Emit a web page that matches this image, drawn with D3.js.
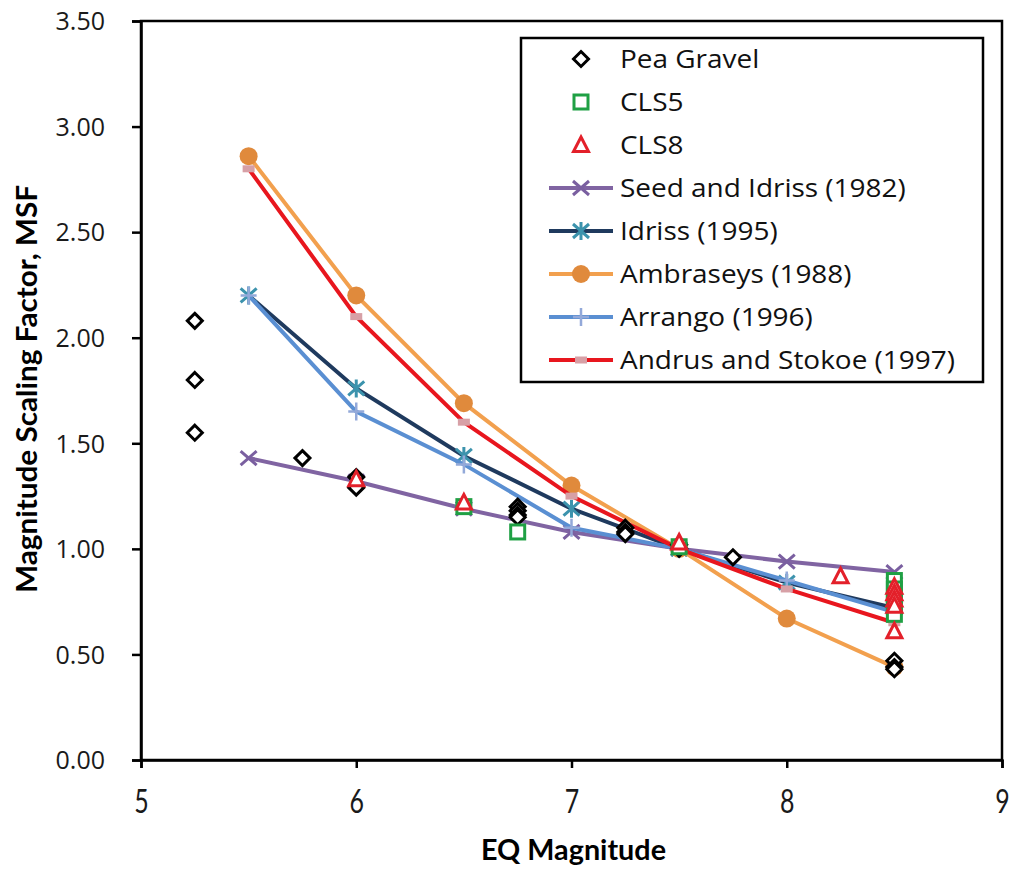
<!DOCTYPE html>
<html><head><meta charset="utf-8">
<script src="https://cdn.jsdelivr.net/npm/d3@7"></script>
<style>body{margin:0;background:#fff}</style>
</head><body>
<svg id="c" width="1013" height="869"></svg>
<script>
// ---- data ----
const xTicks = [5, 6, 7, 8, 9];
const yTicks = [0, 0.5, 1, 1.5, 2, 2.5, 3, 3.5];

const peaGravel = [[5.25,2.08],[5.25,1.80],[5.25,1.55],[5.75,1.43],[6,1.34],[6,1.29],
  [6.75,1.20],[6.75,1.18],[6.75,1.16],[6.75,1.15],[7.25,1.10],[7.25,1.08],[7.25,1.07],[7.5,1.02],[7.5,1.00],
  [7.75,0.96],[8.5,0.47],[8.5,0.44],[8.5,0.43]];
const cls5 = [[6.5,1.20],[6.75,1.08],[7.5,1.01],[8.5,0.85],[8.5,0.81],[8.5,0.77],[8.5,0.73],[8.5,0.69]];
const cls8 = [[6,1.33],[6.5,1.22],[7.5,1.03],[8.25,0.87],[8.5,0.82],[8.5,0.79],[8.5,0.76],[8.5,0.73],[8.5,0.61]];

const magnitudes = [5.5, 6, 6.5, 7, 7.5, 8, 8.5];
const seedIdriss1982 = [1.43, 1.32, 1.19, 1.08, 1.00, 0.94, 0.89];
const idriss1995 = [2.20, 1.76, 1.44, 1.19, 1.00, 0.84, 0.72];
const ambraseys1988 = [2.86, 2.20, 1.69, 1.30, 1.00, 0.67, 0.44];
const arrango1996 = [2.20, 1.65, 1.40, 1.10, 1.00, 0.85, 0.70];
const andrusStokoe1997 = [2.80, 2.10, 1.60, 1.25, 1.00, 0.81, 0.65];

const svg = d3.select('#c');
const L = 141, R = 1002, T = 21, B = 760;
const x = d3.scaleLinear().domain([5, 9]).range([L, R]);
const y = d3.scaleLinear().domain([0, 3.5]).range([B, T]);

// frame
svg.append('rect').attr('x', L).attr('y', T).attr('width', R-L).attr('height', B-T)
  .attr('fill', 'none').attr('stroke', '#000').attr('stroke-width', 2.5);

const xa = svg.append('g').attr('transform', `translate(0,${B})`)
  .call(d3.axisBottom(x).tickValues(xTicks).tickSize(8).tickPadding(22).tickFormat(d3.format('d')));
const ya = svg.append('g').attr('transform', `translate(${L},0)`)
  .call(d3.axisLeft(y).tickValues(yTicks).tickSize(9).tickPadding(27).tickFormat(d3.format('.2f')));
[xa, ya].forEach(a => {
  a.select('.domain').attr('stroke', '#000').attr('stroke-width', 2.5);
  a.selectAll('.tick line').attr('stroke', '#000').attr('stroke-width', 2.5);
  a.selectAll('.tick text').attr('fill', '#1a1a1a').style('font-family', "'Open Sans', sans-serif");
});
ya.selectAll('.tick text').style('font-size', '25px').attr('dy', '0.35em');
xa.selectAll('.tick text').style('font-family', "Lato, sans-serif").style('font-size', '32px')
  .attr('transform', 'scale(0.78,1)');

svg.append('text').attr('x', (L+R)/2 + 2).attr('y', 860).attr('text-anchor', 'middle')
  .style('font-family', "Lato, sans-serif").style('font-weight', 'bold').style('font-size', '29px')
  .attr('textLength', 185).attr('lengthAdjust', 'spacingAndGlyphs').text('EQ Magnitude');
svg.append('text').attr('transform', `translate(37,${389}) rotate(-90)`).attr('text-anchor', 'middle')
  .style('font-family', "Lato, sans-serif").style('font-weight', 'bold').style('font-size', '29px')
  .attr('textLength', 408).attr('lengthAdjust', 'spacingAndGlyphs').text('Magnitude Scaling Factor, MSF');

// markers
function marker(g, type, color) {
  if (type === 'diamond') g.append('path').attr('d', 'M0,-7.5L7.5,0L0,7.5L-7.5,0Z').attr('fill', '#fff').attr('stroke', '#000').attr('stroke-width', 3);
  if (type === 'square') g.append('rect').attr('x', -7).attr('y', -7).attr('width', 14).attr('height', 14).attr('fill', '#fff').attr('stroke', '#1fa044').attr('stroke-width', 3);
  if (type === 'tri') g.append('path').attr('d', 'M0,-8L7.5,6.5L-7.5,6.5Z').attr('fill', '#fff').attr('stroke', '#e3202a').attr('stroke-width', 3);
  if (type === 'x') g.append('path').attr('d', 'M-8,-7L8,7M-8,7L8,-7').attr('stroke', color).attr('stroke-width', 3);
  if (type === 'star') g.append('path').attr('d', 'M-8,-7L8,7M-8,7L8,-7M0,-9L0,9').attr('stroke', color).attr('stroke-width', 3);
  if (type === 'circle') g.append('circle').attr('r', 9).attr('fill', color);
  if (type === 'plus') g.append('path').attr('d', 'M-8,0L8,0M0,-9L0,9').attr('stroke', color).attr('stroke-width', 2.5);
  if (type === 'dash') g.append('rect').attr('x', -6).attr('y', -3.5).attr('width', 12).attr('height', 7).attr('fill', color);
}

const lines = [
  {name: 'Seed and Idriss (1982)', vals: seedIdriss1982, line: '#8064a2', mk: 'x', mc: '#7a5fa0'},
  {name: 'Idriss (1995)', vals: idriss1995, line: '#1f3a5e', mk: 'star', mc: '#3c93ad'},
  {name: 'Ambraseys (1988)', vals: ambraseys1988, line: '#f2a04e', mk: 'circle', mc: '#e08a3c'},
  {name: 'Arrango (1996)', vals: arrango1996, line: '#5a8fd2', mk: 'plus', mc: '#93a9d9'},
  {name: 'Andrus and Stokoe (1997)', vals: andrusStokoe1997, line: '#e8161e', mk: 'dash', mc: '#d7a0a6'}
];
const lineGen = d3.line().x(d => x(d[0])).y(d => y(d[1]));
lines.forEach(s => {
  const pts = magnitudes.map((m, i) => [m, s.vals[i]]);
  svg.append('path').attr('d', lineGen(pts)).attr('fill', 'none').attr('stroke', s.line).attr('stroke-width', 4);
  pts.forEach(p => marker(svg.append('g').attr('transform', `translate(${x(p[0])},${y(p[1])})`), s.mk, s.mc));
});

[[peaGravel, 'diamond'], [cls5, 'square'], [cls8, 'tri']].forEach(([arr, t]) => {
  arr.forEach(p => marker(svg.append('g').attr('transform', `translate(${x(p[0])},${y(p[1])})`), t));
});

// legend
const lg = svg.append('g');
lg.append('rect').attr('x', 521).attr('y', 38).attr('width', 462).attr('height', 344)
  .attr('fill', '#fff').attr('stroke', '#000').attr('stroke-width', 2.5);
const entries = [
  {name: 'Pea Gravel', mk: 'diamond'},
  {name: 'CLS5', mk: 'square'},
  {name: 'CLS8', mk: 'tri'}
].concat(lines);
const texts = [];
entries.forEach((e, i) => {
  const cy = 59 + i * 43;
  if (e.line) lg.append('line').attr('x1', 549).attr('x2', 613).attr('y1', cy).attr('y2', cy).attr('stroke', e.line).attr('stroke-width', 4);
  marker(lg.append('g').attr('transform', `translate(581,${cy})`), e.mk, e.mc);
  texts.push(lg.append('text').attr('x', 620).attr('y', cy).attr('dy', '0.36em')
    .style('font-family', "'Open Sans', sans-serif").style('font-size', '26px').attr('fill', '#111').text(e.name));
});
// fit widths to reference proportion (longest label ~335px wide)
const longest = texts[texts.length - 1].node().getComputedTextLength();
const k = 335 / longest;
texts.forEach(t => {
  const w = t.node().getComputedTextLength();
  t.attr('textLength', w * k).attr('lengthAdjust', 'spacingAndGlyphs');
});
</script>
</body></html>
